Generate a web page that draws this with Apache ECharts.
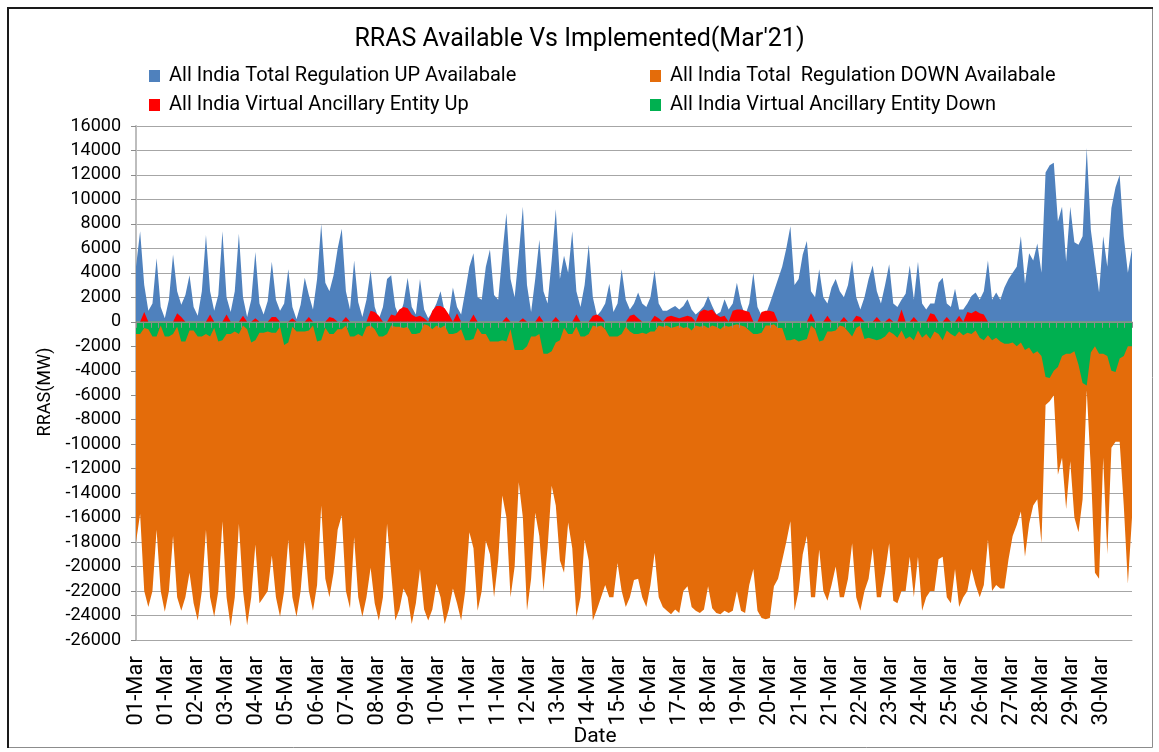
<!DOCTYPE html>
<html>
<head>
<meta charset="utf-8">
<script src="https://cdn.jsdelivr.net/npm/echarts@6/dist/echarts.min.js"></script>
<style>
html,body{margin:0;padding:0;background:#fff;}
#chart{width:1159px;height:752px;}
</style>
</head>
<body>
<div id="chart"></div>
<script>
// x-axis tick labels (one every 22 hours, as in the source sheet)
const tickLabels = ['01-Mar','01-Mar','02-Mar','03-Mar','04-Mar','05-Mar','06-Mar','07-Mar','08-Mar','09-Mar','10-Mar','11-Mar','11-Mar','12-Mar','13-Mar','14-Mar','15-Mar','16-Mar','17-Mar','18-Mar','19-Mar','20-Mar','21-Mar','21-Mar','22-Mar','23-Mar','24-Mar','25-Mar','26-Mar','27-Mar','28-Mar','29-Mar','30-Mar'];
const labelEveryHours = 22;
const sampleEveryHours = 3;

const seriesNames = ['All India Total Regulation UP Availabale','All India Total  Regulation DOWN Availabale','All India Virtual Ancillary Entity Up','All India Virtual Ancillary Entity Down'];

// All India Total Regulation UP Available (MW), read every 3 h
const upAvail = [
4500,7400,3000,900,1500,5200,1200,300,1800,5500,
2500,1400,2200,3800,1200,500,2500,7100,2500,900,
2200,7400,2000,800,2500,7200,2000,400,1800,5700,
1500,600,1700,4900,1800,900,1500,4300,1200,200,
1400,3600,2200,1000,3500,8000,3200,2500,3800,6000,
7600,2500,1000,5000,1600,400,1800,4200,1200,200,
1200,3500,3800,1200,400,1500,3600,1200,600,3500,
1000,300,800,1500,2500,800,500,2800,1200,600,
2500,4500,5600,2000,1800,4500,5900,2200,1800,5500,
8900,3500,2000,5500,9400,3000,800,3500,6700,2500,
1500,5000,9200,3500,5400,4000,7400,2500,1200,3000,
6300,2000,500,900,1500,3100,800,1500,4300,1800,
1000,1500,2400,1500,1200,2000,4200,1500,900,900,
1100,1300,1000,1300,1850,1000,600,900,1300,2100,
1300,600,800,1850,1000,1500,3200,1500,500,1500,
4000,1200,500,600,1500,2500,3500,4500,6000,7800,
3000,3500,5500,6600,2500,2000,4300,2000,1500,2800,
3500,2500,2000,3000,5000,2000,1000,2000,3500,4600,
2500,1500,3000,4700,1500,1200,1800,2300,4600,1800,
4900,1500,1000,1500,1500,3200,3600,1500,1200,2700,
1000,1000,1500,2100,2400,1800,2500,5000,1800,2400,
1800,2800,3500,4000,4500,7000,3100,5600,5000,6400,
4000,12200,12800,13000,8200,9400,4900,9400,6500,6300,
7000,14200,7500,4900,2400,7000,4500,9300,11000,12000,
7000,4000,6000];

// All India Total Regulation DOWN Available (MW)
const downAvail = [
-18000,-15700,-22000,-23300,-22000,-17000,-22000,-23700,-22000,-17500,
-22500,-23600,-22500,-20500,-23000,-24400,-22000,-17000,-22500,-24100,
-22000,-16300,-22500,-24900,-22500,-16500,-22000,-24800,-22500,-18200,
-23000,-22500,-22000,-19100,-22500,-24100,-22000,-17800,-22500,-24100,
-22000,-17900,-22000,-23600,-21500,-15000,-21000,-22500,-20500,-17000,
-15800,-22000,-23400,-17600,-22500,-24100,-22500,-20100,-23000,-24400,
-22500,-16500,-20500,-24400,-23500,-21800,-22500,-24700,-23000,-20200,
-23500,-24400,-23500,-21400,-22500,-24700,-23500,-21800,-23000,-24400,
-22000,-17200,-18500,-23600,-22000,-17900,-19000,-22500,-19500,-14200,
-16000,-22500,-20000,-13100,-16000,-23600,-21000,-15600,-17500,-22000,
-18500,-13400,-15000,-19500,-20500,-16400,-18500,-24100,-22500,-17800,
-19500,-24400,-23500,-22500,-21500,-22500,-22500,-19700,-22000,-23300,
-22500,-21100,-21000,-22500,-23300,-21500,-18900,-22500,-23300,-23600,
-23900,-23500,-23800,-22000,-21600,-23300,-23600,-23800,-23500,-21600,
-23400,-23800,-23900,-23600,-23800,-23600,-22000,-23600,-23800,-21500,
-20200,-23600,-24200,-24300,-24200,-21600,-21000,-19500,-18000,-16300,
-23600,-22000,-19000,-17500,-22500,-22500,-18600,-22000,-22800,-21500,
-20000,-22500,-22500,-21000,-18100,-22500,-23600,-22000,-21000,-18500,
-22500,-22500,-20500,-18100,-22800,-23000,-22000,-22000,-19200,-22500,
-19200,-23600,-22500,-22000,-22000,-19400,-19200,-22500,-23000,-20200,
-23300,-22500,-22000,-20200,-21500,-22500,-21500,-17800,-22000,-21500,
-21800,-21800,-19400,-17500,-16600,-15500,-19200,-16500,-15000,-14500,
-18100,-6800,-6500,-6000,-12500,-11100,-15300,-11400,-16000,-17200,
-14500,-5600,-12000,-20500,-21000,-11100,-19000,-10300,-9800,-9800,
-15000,-21400,-16000];

// All India Virtual Ancillary Entity Up (MW)
const vaeUp = [
0,0,800,0,0,0,0,0,0,0,
700,400,0,0,0,0,0,0,600,0,
0,0,600,0,0,0,500,0,0,300,
0,0,0,400,400,0,0,0,300,0,
0,0,400,0,0,0,0,400,300,0,
0,400,0,0,0,0,0,900,800,500,
0,0,600,500,1000,1200,1100,600,400,500,
300,0,900,1300,1300,1100,600,0,700,0,
0,0,600,0,0,0,0,0,0,0,
400,0,0,0,300,0,0,0,500,0,
0,0,400,0,0,0,0,600,0,0,
0,500,600,400,0,0,0,0,0,0,
500,600,300,0,0,0,500,300,0,400,
500,400,300,400,500,400,0,800,1000,900,
1000,600,400,500,0,900,1000,1000,900,800,
0,0,800,900,900,800,0,0,0,0,
0,0,0,0,700,0,0,0,500,0,
0,0,400,0,0,500,400,0,0,0,
400,0,0,300,0,0,1000,0,0,400,
0,0,0,700,600,0,0,400,0,0,
500,0,800,700,900,700,600,0,0,0,
0,0,0,0,0,0,0,0,0,0,
0,0,0,0,0,0,0,0,0,0,
0,0,0,0,0,0,0,0,0,0,
0,0,0];

// All India Virtual Ancillary Entity Down (MW)
const vaeDown = [
-1000,-1000,-500,-600,-1200,-1200,-300,-1200,-1200,-1000,
-400,-1600,-1600,-700,-700,-1200,-1200,-1000,-1200,-500,
-1600,-1500,-1000,-1000,-800,-1000,-300,-600,-1700,-1500,
-900,-900,-800,-900,-900,-400,-1900,-1700,-400,-800,
-800,-800,-700,-300,-1600,-1500,-500,-1000,-1000,-600,
-600,-300,-1200,-1200,-1000,-1200,-400,-300,-600,-1200,
-1200,-1000,-300,-400,-400,-500,-400,-1000,-1000,-900,
-200,-300,-600,-300,-500,-300,-1000,-1000,-900,-600,
-1500,-1500,-1400,-500,-1000,-1000,-1600,-1600,-1600,-1500,
-1600,-600,-2300,-2300,-2300,-2000,-1200,-1200,-1000,-2600,
-2600,-2400,-1700,-1500,-500,-1000,-1000,-400,-1200,-1200,
-1000,-300,-400,-300,-600,-1200,-1200,-1200,-1000,-400,
-800,-1000,-1000,-900,-1000,-800,-800,-300,-400,-300,
-500,-400,-300,-500,-400,-700,-300,-400,-300,-500,
-300,-400,-600,-300,-400,-300,-200,-300,-400,-700,
-1000,-1000,-900,-300,-300,-200,-500,-500,-1500,-1500,
-1400,-1600,-1500,-1400,-300,-600,-1600,-1500,-800,-800,
-700,-300,-400,-800,-1200,-500,-300,-1400,-1300,-1400,
-1500,-1400,-1200,-800,-1000,-1300,-700,-1400,-1200,-1500,
-700,-1300,-1000,-1400,-800,-1000,-1500,-700,-1000,-1200,
-800,-1100,-900,-1000,-700,-1300,-1500,-1100,-1500,-1300,
-1600,-1800,-1800,-1700,-2000,-1700,-2300,-2100,-2600,-2400,
-2800,-4500,-4600,-4000,-3700,-2800,-2600,-2600,-2400,-3500,
-5000,-5200,-2500,-2000,-2600,-2600,-2800,-4000,-4100,-3000,
-2800,-2000,-2000];

const hours = upAvail.map((_, i) => i * sampleEveryHours);
const withTime = arr => arr.map((v, i) => [hours[i], v]);
const axisMaxHours = tickLabels.length * labelEveryHours;

const FONT = 'Roboto, "Noto Sans", sans-serif';
const colors = ['#4F81BD', '#E46C0A', '#FF0000', '#00B050'];
const values = [upAvail, downAvail, vaeUp, vaeDown];

const chart = echarts.init(document.getElementById('chart'), null, {renderer: 'canvas'});

const legendBase = {
  orient: 'vertical', top: 66, padding: 0, itemGap: 9, itemWidth: 11, itemHeight: 12,
  icon: 'rect', selectedMode: false,
  textStyle: {fontFamily: FONT, fontSize: 20, color: '#000', padding: [0, 0, 0, 4]}
};

chart.setOption({
  animation: false,
  backgroundColor: '#ffffff',
  title: {
    text: "RRAS Available Vs Implemented(Mar'21)",
    left: 'center', top: 22,
    textStyle: {fontFamily: FONT, fontSize: 25, fontWeight: 'normal', color: '#000'}
  },
  legend: [
    Object.assign({}, legendBase, {left: 149, data: [seriesNames[0], seriesNames[2]]}),
    Object.assign({}, legendBase, {left: 650, data: [seriesNames[1], seriesNames[3]]})
  ],
  grid: {left: 136, right: 27, top: 126, bottom: 112, containLabel: false, outerBoundsMode: 'none'},
  xAxis: [
    {
      type: 'value', min: 0, max: axisMaxHours, interval: labelEveryHours,
      position: 'bottom',
      axisLine: {onZero: false, lineStyle: {color: '#a6a6a6', width: 1}},
      axisTick: {show: false},
      splitLine: {show: false},
      axisLabel: {
        rotate: 90, margin: 16, fontFamily: FONT, fontSize: 22, color: '#000',
        showMaxLabel: false,
        formatter: v => tickLabels[Math.round(v / labelEveryHours)] || ''
      }
    },
    {
      type: 'value', min: 0, max: axisMaxHours, interval: labelEveryHours / 4,
      position: 'top', z: 10,
      axisLine: {onZero: true, lineStyle: {color: '#8c8c8c', width: 1}},
      axisTick: {show: true, inside: true, length: 6, lineStyle: {color: '#8c8c8c'}},
      axisLabel: {show: false},
      splitLine: {show: false}
    }
  ],
  yAxis: {
    type: 'value', min: -26000, max: 16000, interval: 2000,
    axisLine: {show: true, onZero: false, lineStyle: {color: '#bdbdbd', width: 2}},
    axisTick: {show: true, length: 5, lineStyle: {color: '#8c8c8c'}},
    splitLine: {lineStyle: {color: '#a6a6a6', width: 1}},
    axisLabel: {fontFamily: FONT, fontSize: 18, color: '#000', margin: 15, formatter: v => String(v)}
  },
  graphic: [
    {type: 'rect', silent: true, z: -1,
     shape: {x: 7.5, y: 7.5, width: 1145, height: 740},
     style: {fill: 'none', stroke: '#8c8c8c', lineWidth: 1}},
    {type: 'polyline', silent: true,
     shape: {points: [[8, 748], [8, 8], [1153, 8]]},
     style: {fill: null, stroke: '#1a1a1a', lineWidth: 2}},
    {type: 'text', silent: true, x: 45, y: 392, rotation: Math.PI / 2,
     style: {text: 'RRAS(MW)', fontFamily: FONT, fontSize: 18, fill: '#000',
             align: 'center', verticalAlign: 'middle'}},
    {type: 'text', silent: true, x: 595, y: 737,
     style: {text: 'Date', fontFamily: FONT, fontSize: 21, fill: '#000',
             align: 'center', verticalAlign: 'middle'}}
  ],
  series: seriesNames.map((name, k) => ({
    name, type: 'line', xAxisIndex: 0,
    data: withTime(values[k]),
    symbol: 'none', silent: true,
    color: colors[k],
    lineStyle: {width: 0},
    areaStyle: {color: colors[k], opacity: 1}
  }))
});
</script>
</body>
</html>
